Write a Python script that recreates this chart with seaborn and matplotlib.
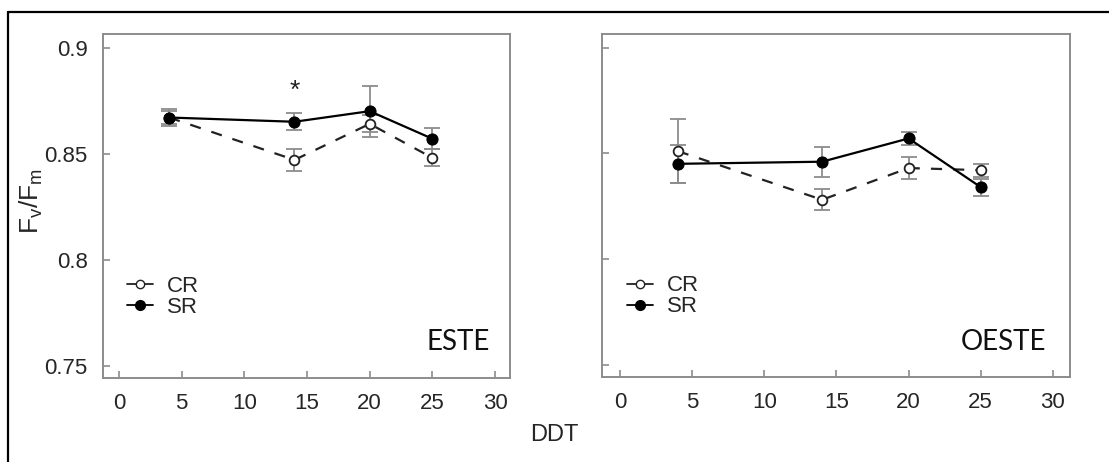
import numpy as np
import pandas as pd
import matplotlib
matplotlib.use("Agg")
import matplotlib.pyplot as plt
from matplotlib.lines import Line2D
import seaborn as sns

# days after treatment
ddt = [4, 14, 20, 25]

# ESTE panel
este_cr = [0.867, 0.847, 0.864, 0.848]
este_cr_err = [0.003, 0.005, 0.004, 0.004]
este_sr = [0.867, 0.865, 0.870, 0.857]
este_sr_err = [0.004, 0.004, 0.012, 0.005]

# OESTE panel
oeste_cr = [0.851, 0.828, 0.843, 0.842]
oeste_cr_err = [0.015, 0.005, 0.005, 0.003]
oeste_sr = [0.845, 0.846, 0.857, 0.834]
oeste_sr_err = [0.009, 0.007, 0.003, 0.004]

panels = ["ESTE", "OESTE"]
xticks = [0, 5, 10, 15, 20, 25, 30]
yticks = [0.75, 0.8, 0.85, 0.9]
ytick_labels = ["0.75", "0.8", "0.85", "0.9"]

sns.set_style("white")
plt.rcParams['font.family'] = ['Liberation Sans', 'DejaVu Sans']
plt.rcParams['mathtext.fontset'] = 'custom'
plt.rcParams['mathtext.rm'] = 'Liberation Sans'
plt.rcParams['mathtext.it'] = 'Liberation Sans'

GRAY = '#8c8c8c'
TXT = '#262626'

fig = plt.figure(figsize=(11.09, 4.62), dpi=100)
ax1 = fig.add_axes([0.0929, 0.182, 0.367, 0.744])
ax2 = fig.add_axes([0.5426, 0.184, 0.4223, 0.742])

data = [
    (ax1, este_cr, este_cr_err, este_sr, este_sr_err, "ESTE"),
    (ax2, oeste_cr, oeste_cr_err, oeste_sr, oeste_sr_err, "OESTE"),
]

for ax, cr, cr_e, sr, sr_e, name in data:
    df = pd.DataFrame({'DDT': ddt * 2,
                       'val': cr + sr,
                       'err': cr_e + sr_e,
                       'grp': ['CR'] * 4 + ['SR'] * 4})
    # error bars first (gray)
    for g in ['CR', 'SR']:
        sub = df[df.grp == g]
        ax.errorbar(sub.DDT, sub.val, yerr=sub.err, fmt='none', ecolor=GRAY,
                    elinewidth=1.3, capsize=6, capthick=1.3, zorder=2)
    sub = df[df.grp == 'CR']
    sns.lineplot(x=sub.DDT, y=sub.val, ax=ax, color='#222222', linestyle=(0, (5, 5)),
                 lw=1.6, marker='o', markersize=7, markerfacecolor='white',
                 markeredgecolor='#222222', markeredgewidth=1.3, zorder=3)
    sub = df[df.grp == 'SR']
    sns.lineplot(x=sub.DDT, y=sub.val, ax=ax, color='black', lw=1.6,
                 marker='o', markersize=8, markerfacecolor='black',
                 markeredgecolor='black', zorder=4)

    ax.set_xlim(-1.28, 31.2)
    ax.set_ylim(0.7442, 0.9063)
    ax.set_xticks(xticks)
    ax.set_yticks(yticks)
    ax.set_xlabel('')
    ax.set_ylabel('')
    ax.tick_params(bottom=True, left=True, direction='in', length=5, width=1.2,
                   color=GRAY, labelsize=16, labelcolor=TXT, pad=11)
    for s in ax.spines.values():
        s.set_color(GRAY)
        s.set_linewidth(1.4)
    ax.text(0.95, 0.08, name, transform=ax.transAxes, ha='right', va='baseline',
            fontsize=20, family=['Lato', 'DejaVu Sans'], color='#111111')

    handles = [Line2D([], [], color='#222222', lw=1.3, marker='o', markersize=6,
                      markerfacecolor='white', markeredgecolor='#222222'),
               Line2D([], [], color='black', lw=1.3, marker='o', markersize=7,
                      markerfacecolor='black')]
    ax.legend(handles, ['CR', 'SR'], loc='center left', bbox_to_anchor=(0.02, 0.235),
              frameon=False, fontsize=16, handlelength=1.2, handletextpad=0.6,
              labelspacing=0.0, borderpad=0.2)

ax1.set_yticklabels(ytick_labels)
ax2.set_yticklabels([])
ax1.text(14, 0.8795, '*', ha='center', va='center', fontsize=19, color='#222222')

fig.text(0.5, 0.035, 'DDT', ha='center', va='bottom', fontsize=17, color=TXT)
fig.text(0.028, 0.565, r'$\mathregular{F_v/F_m}$', rotation=90, ha='center', va='center',
         fontsize=19, color=TXT)

# frame around the figure (top and left visible)
fig.add_artist(Line2D([8 / 1109, 1.0], [1 - 12 / 462] * 2, color='black', lw=1.6,
                      transform=fig.transFigure))
fig.add_artist(Line2D([8 / 1109] * 2, [0.0, 1 - 12 / 462], color='black', lw=1.6,
                      transform=fig.transFigure))

fig.savefig('out.png', dpi=100)
